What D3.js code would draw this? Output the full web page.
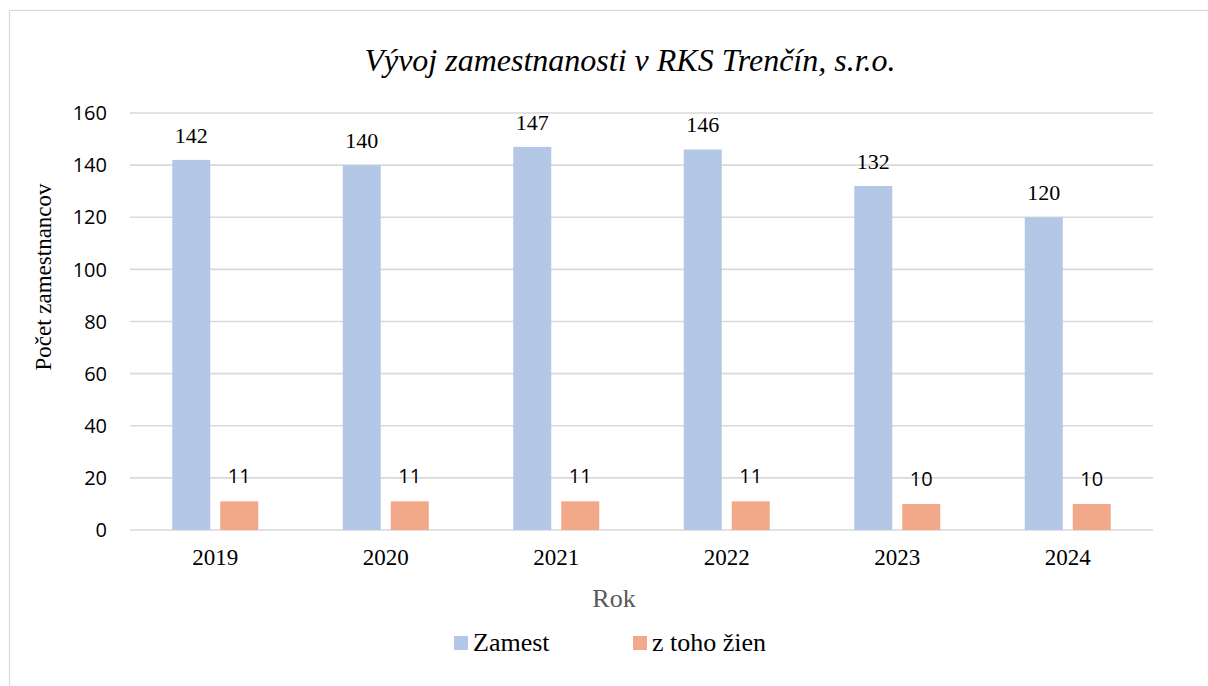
<!DOCTYPE html>
<html lang="sk">
<head>
    <meta charset="UTF-8">
    <title>Vývoj zamestnanosti</title>
    <script src="https://d3js.org/d3.v7.min.js"></script>
    <style>
        body { margin: 0; background: #fff; }
    </style>
</head>
<body>
    <div id="chart"></div>

    <script>
        // data
        const years = ["2019", "2020", "2021", "2022", "2023", "2024"];
        const seriesNames = ["Zamest", "z toho žien"];
        const zamest = [142, 140, 147, 146, 132, 120];
        const zeny = [11, 11, 11, 11, 10, 10];
        const yTicks = [0, 20, 40, 60, 80, 100, 120, 140, 160];
        const colors = ["#b4c7e7", "#f2a98a"];

        const SERIF = "'Liberation Serif', 'Times New Roman', 'DejaVu Serif', serif";
        const SANS = "'Open Sans', 'Liberation Sans', sans-serif";

        const W = 1208, H = 686;
        const plot = { left: 130, right: 1153, top: 113, bottom: 530 };

        const svg = d3.select("#chart")
            .append("svg")
            .attr("width", W)
            .attr("height", H);

        // outer frame
        svg.append("rect")
            .attr("x", 9.5).attr("y", 10.5)
            .attr("width", W).attr("height", H)
            .attr("fill", "none")
            .attr("stroke", "#d9d9d9")
            .attr("stroke-width", 1.2);

        const x0 = d3.scaleBand()
            .domain(years)
            .range([plot.left, plot.right])
            .padding(0);

        const x1 = d3.scaleBand()
            .domain(seriesNames)
            .range([0, x0.bandwidth()])
            .paddingInner(0.208)
            .paddingOuter(0.88);

        const y = d3.scaleLinear()
            .domain([0, 160])
            .range([plot.bottom, plot.top]);

        // gridlines
        svg.append("g")
            .selectAll("line")
            .data(yTicks)
            .enter()
            .append("line")
            .attr("x1", plot.left)
            .attr("x2", plot.right)
            .attr("y1", d => y(d))
            .attr("y2", d => y(d))
            .attr("stroke", "#d9d9d9")
            .attr("stroke-width", 1.6);

        // y tick labels
        svg.append("g")
            .selectAll("text")
            .data(yTicks)
            .enter()
            .append("text")
            .style("font-family", SANS)
            .attr("x", 107)
            .attr("y", d => y(d))
            .attr("dy", "0.36em")
            .attr("text-anchor", "end")
            .attr("font-size", 20)
            .attr("fill", "#000")
            .text(d => d);

        const table = years.map((yr, i) => ({ year: yr, values: [zamest[i], zeny[i]] }));

        const groups = svg.append("g")
            .selectAll("g")
            .data(table)
            .enter()
            .append("g")
            .attr("transform", d => `translate(${x0(d.year)},0)`);

        groups.selectAll("rect")
            .data(d => d.values.map((v, k) => ({ name: seriesNames[k], value: v, k: k })))
            .enter()
            .append("rect")
            .attr("x", d => x1(d.name))
            .attr("y", d => y(d.value))
            .attr("width", x1.bandwidth())
            .attr("height", d => y(0) - y(d.value))
            .attr("fill", d => colors[d.k]);

        // value labels
        groups.selectAll("text")
            .data(d => d.values.map((v, k) => ({ name: seriesNames[k], value: v, k: k })))
            .enter()
            .append("text")
            .style("font-family", d => d.k === 0 ? SERIF : SANS)
            .attr("x", d => x1(d.name) + x1.bandwidth() / 2)
            .attr("y", d => y(d.value) - (d.k === 0 ? 17 : 18))
            .attr("text-anchor", "middle")
            .attr("font-size", d => d.k === 0 ? 22 : 20)
            .attr("fill", "#000")
            .text(d => d.value);

        // x tick labels
        svg.append("g")
            .selectAll("text")
            .data(years)
            .enter()
            .append("text")
            .style("font-family", SERIF)
            .attr("x", d => x0(d) + x0.bandwidth() / 2)
            .attr("y", 565)
            .attr("text-anchor", "middle")
            .attr("font-size", 23)
            .attr("fill", "#000")
            .text(d => d);

        // title
        svg.append("text")
            .style("font-family", SERIF)
            .attr("x", 630)
            .attr("y", 71)
            .attr("text-anchor", "middle")
            .attr("font-size", 32)
            .attr("font-style", "italic")
            .attr("fill", "#000")
            .text("Vývoj zamestnanosti v RKS Trenčín, s.r.o.");

        // axis titles
        svg.append("text")
            .style("font-family", SERIF)
            .attr("x", 614)
            .attr("y", 607)
            .attr("text-anchor", "middle")
            .attr("font-size", 26)
            .attr("fill", "#595959")
            .text("Rok");

        svg.append("text")
            .style("font-family", SERIF)
            .attr("transform", "translate(51,277) rotate(-90)")
            .attr("text-anchor", "middle")
            .attr("font-size", 23)
            .attr("fill", "#000")
            .text("Počet zamestnancov");

        // legend
        const legendX = [454, 633];
        const legend = svg.append("g")
            .selectAll("g")
            .data(seriesNames)
            .enter()
            .append("g")
            .attr("transform", (d, i) => `translate(${legendX[i]},636)`);

        legend.append("rect")
            .attr("width", 14)
            .attr("height", 14)
            .attr("fill", (d, i) => colors[i]);

        legend.append("text")
            .style("font-family", SERIF)
            .attr("x", 19)
            .attr("y", 15)
            .attr("font-size", 26)
            .attr("fill", "#000")
            .text(d => d);
    </script>
</body>
</html>
